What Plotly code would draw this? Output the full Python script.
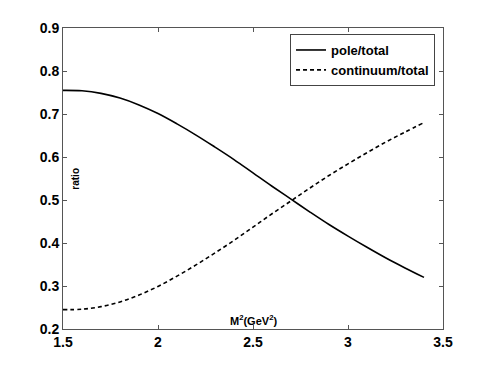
import plotly.graph_objects as go

m2 = [1.5, 1.6, 1.7, 1.8, 1.9, 2.0, 2.1, 2.2, 2.3, 2.4, 2.5, 2.6, 2.7, 2.8, 2.9, 3.0, 3.1, 3.2, 3.3, 3.4]
pole = [0.755, 0.754, 0.748, 0.737, 0.721, 0.701, 0.677, 0.651, 0.623, 0.594, 0.563, 0.532, 0.502, 0.472, 0.443, 0.416, 0.390, 0.365, 0.342, 0.320]
continuum = [round(1 - p, 3) for p in pole]

xticks = [1.5, 2, 2.5, 3, 3.5]
xticklabels = ["1.5", "2", "2.5", "3", "3.5"]
yticks = [0.2, 0.3, 0.4, 0.5, 0.6, 0.7, 0.8, 0.9]
yticklabels = ["0.2", "0.3", "0.4", "0.5", "0.6", "0.7", "0.8", "0.9"]

font = "Liberation Sans, Arial, sans-serif"

fig = go.Figure()
fig.add_trace(go.Scatter(x=m2, y=pole, mode="lines", name="<b>pole/total</b>",
                         line=dict(color="black", width=1.6, shape="spline")))
fig.add_trace(go.Scatter(x=m2, y=continuum, mode="lines", name="<b>continuum/total</b>",
                         line=dict(color="black", width=1.6, dash="4px,3px", shape="spline")))

axis_common = dict(showgrid=False, zeroline=False, showline=True, linecolor="#555",
                   linewidth=1, mirror="ticks", ticks="inside", ticklen=4,
                   tickcolor="#555", tickfont=dict(family=font, size=14, color="black"))

fig.update_xaxes(range=[1.5, 3.5], tickvals=xticks, ticktext=["<b>%s</b>" % t for t in xticklabels],
                 **axis_common)
fig.update_yaxes(range=[0.2, 0.9], tickvals=yticks, ticktext=["<b>%s</b>" % t for t in yticklabels],
                 **axis_common)

fig.add_annotation(text="<b>ratio</b>", x=0.032, y=0.5, xref="paper", yref="paper",
                   xanchor="center", yanchor="middle",
                   textangle=-90, showarrow=False, font=dict(family=font, size=10, color="black"))
fig.add_annotation(text="<b>M<sup>2</sup>(GeV<sup>2</sup>)</b>", x=0.5, y=0.03, xref="paper", yref="paper",
                   xanchor="center", yanchor="middle",
                   showarrow=False, font=dict(family=font, size=11, color="black"))

fig.update_layout(
    width=489, height=371,
    margin=dict(l=55, r=54, t=20, b=50),
    plot_bgcolor="white", paper_bgcolor="white",
    showlegend=True,
    legend=dict(x=0.979, y=0.98, xanchor="right", yanchor="top",
                bordercolor="#444", borderwidth=1, bgcolor="white",
                font=dict(family=font, size=13, color="black"),
                tracegroupgap=0, itemwidth=30),
)

fig.write_html("out.html")
